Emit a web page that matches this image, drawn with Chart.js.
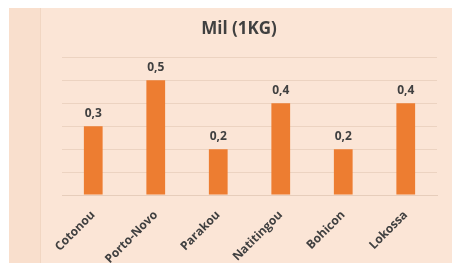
<!DOCTYPE html>
<html lang="fr">
  <head>
    <meta charset="UTF-8" />
    <title>Mil (1KG)</title>
    <script src="https://cdn.jsdelivr.net/npm/chart.js"></script>
    <style>
      body { margin: 0; background: #fff; width: 458px; height: 267px; position: relative; overflow: hidden; }
      #outer { position: absolute; left: 9px; top: 8px; width: 443px; height: 255px; background: #f9dfcd; }
      #panel { position: absolute; left: 31px; top: 0; width: 412px; height: 255px; background: #fbe5d6; border-left: 1px solid #f1d6c2; box-sizing: border-box; }
    </style>
  </head>
  <body>
    <div id="outer">
      <div id="panel"><canvas id="myChart" width="411" height="255"></canvas></div>
    </div>
    <script>
      const cities = ["Cotonou", "Porto-Novo", "Parakou", "Natitingou", "Bohicon", "Lokossa"];
      const prices = [0.3, 0.5, 0.2, 0.4, 0.2, 0.4];
      const priceLabels = ["0,3", "0,5", "0,2", "0,4", "0,2", "0,4"];

      // draws the value above every bar
      const valueLabels = {
        id: "valueLabels",
        afterDatasetsDraw(chart) {
          const ctx = chart.ctx;
          ctx.save();
          ctx.font = "bold 12px 'Open Sans'";
          ctx.fillStyle = "#404040";
          ctx.textAlign = "center";
          ctx.textBaseline = "bottom";
          chart.getDatasetMeta(0).data.forEach((bar, i) => {
            ctx.fillText(priceLabels[i], bar.x, bar.y - 7);
          });
          ctx.restore();
        },
      };

      const config = {
        type: "bar",
        data: {
          labels: cities,
          datasets: [
            {
              label: "Mil (1KG)",
              data: prices,
              backgroundColor: "#ed7d31",
              barPercentage: 0.3,
              categoryPercentage: 1,
            },
          ],
        },
        options: {
          responsive: false,
          animation: false,
          layout: { padding: { right: 15 } },
          scales: {
            x: {
              grid: { display: false },
              border: { color: "#e6cdbb" },
              ticks: {
                color: "#404040",
                font: { family: "Open Sans", size: 12, weight: "bold" },
                minRotation: 45,
                maxRotation: 45,
                padding: 5,
              },
              afterFit: (axis) => { axis.height = 68; },
            },
            y: {
              min: 0,
              max: 0.6,
              ticks: { stepSize: 0.1, display: false },
              grid: { color: "#ecd3c1", drawTicks: false },
              border: { display: false },
              afterFit: (axis) => { axis.width = 21; },
            },
          },
          plugins: {
            legend: { display: false },
            tooltip: { enabled: false },
            title: {
              display: true,
              text: "Mil (1KG)",
              color: "#404040",
              font: { family: "Open Sans", size: 17, weight: "bold" },
              padding: { top: 11, bottom: 18 },
            },
          },
        },
        plugins: [valueLabels],
      };
      new Chart(document.getElementById("myChart"), config);
    </script>
  </body>
</html>
